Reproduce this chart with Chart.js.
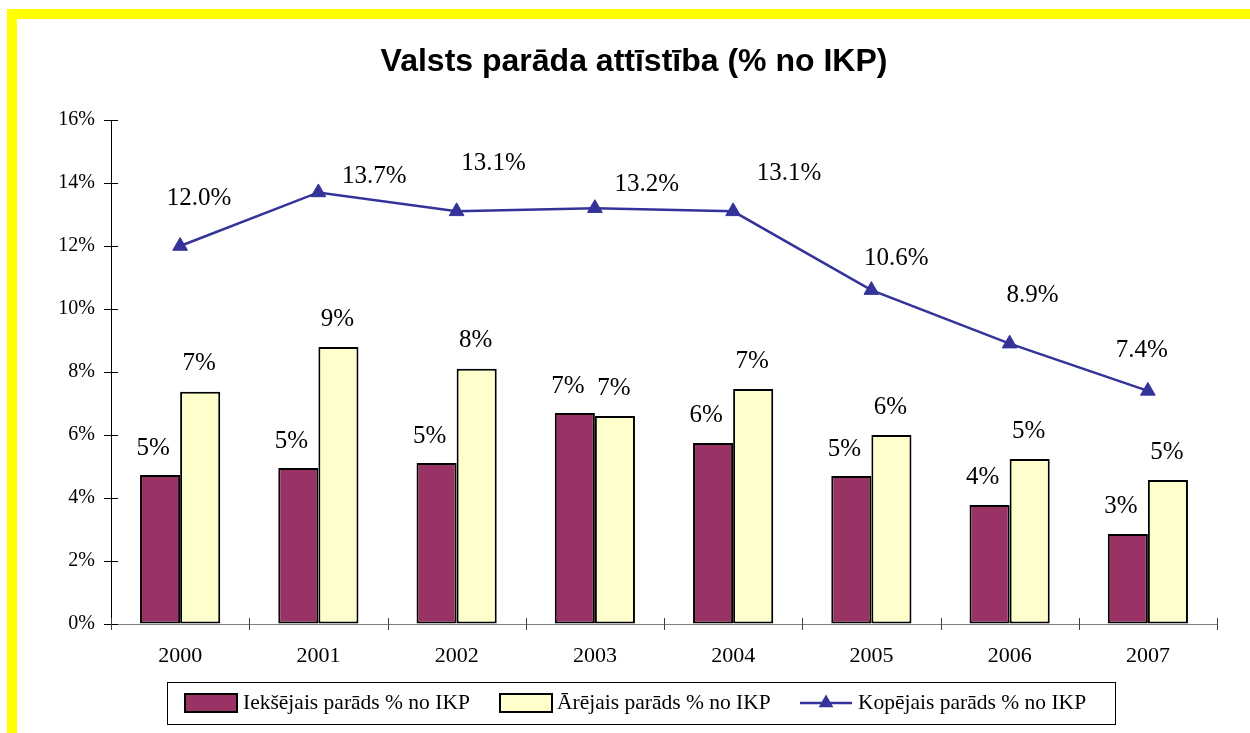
<!DOCTYPE html>
<html><head><meta charset="utf-8">
<script src="https://cdn.jsdelivr.net/npm/chart.js@4.4.1/dist/chart.umd.min.js"></script>
<style>
html,body{margin:0;padding:0;background:#fff;}
#wrap{position:relative;width:1250px;height:733px;overflow:hidden;background:#fff;}
#frame{position:absolute;left:7px;top:9px;right:-20px;bottom:-20px;border-top:10px solid #FFFF00;border-left:10px solid #FFFF00;}
canvas{position:absolute;left:0;top:0;}
</style></head>
<body><div id="wrap"><div id="frame"></div><canvas id="c" width="1250" height="733"></canvas></div>
<script>
const chartTitle = 'Valsts parāda attīstība (% no IKP)';
const categories = ['2000', '2001', '2002', '2003', '2004', '2005', '2006', '2007'];
const domesticDebt = [4.73, 4.95, 5.11, 6.70, 5.75, 4.70, 3.78, 2.86];
const externalDebt = [7.37, 8.79, 8.10, 6.60, 7.46, 6.00, 5.24, 4.57];
const totalDebt = [12.0, 13.7, 13.1, 13.2, 13.1, 10.6, 8.9, 7.4];
const seriesNames = ['Iekšējais parāds % no IKP', 'Ārējais parāds % no IKP', 'Kopējais parāds % no IKP'];
const yTickValues = [0, 2, 4, 6, 8, 10, 12, 14, 16];

const COL_DOM = '#993366', COL_EXT = '#FFFFCC', COL_TOT = '#333399';
const SERIF = '"Liberation Serif", "Times New Roman", serif';
// per-point label offsets for the total-debt line (style, not data)
const lineLabelOffsets = [[19,-48],[56,-16],[37,-48],[52,-24],[56,-38],[25,-32],[23,-48],[-6,-40]];

const overlay = {
  id: 'overlay',
  afterDatasetsDraw(chart) {
    const ctx = chart.ctx;
    const xs = chart.scales.x, ys = chart.scales.y;
    ctx.save();
    // crossing tick marks on y axis
    ctx.strokeStyle = '#000';
    ctx.lineWidth = 1;
    yTickValues.forEach(v => {
      const y = Math.round(ys.getPixelForValue(v)) + 0.5;
      ctx.beginPath(); ctx.moveTo(xs.left - 7, y); ctx.lineTo(xs.left + 7, y); ctx.stroke();
    });
    // crossing tick marks on x axis at category boundaries
    ctx.strokeStyle = '#404040';
    for (let i = 0; i <= categories.length; i++) {
      const x = Math.round(xs.getPixelForValue(i - 0.5)) + 0.5;
      ctx.beginPath(); ctx.moveTo(x, ys.bottom - 6); ctx.lineTo(x, ys.bottom + 6); ctx.stroke();
    }
    ctx.restore();
  },
  afterDraw(chart) {
    const ctx = chart.ctx;
    ctx.save();
    // title
    ctx.fillStyle = '#000';
    ctx.font = 'bold 32px "Liberation Sans", Arial, sans-serif';
    ctx.textAlign = 'center';
    ctx.textBaseline = 'middle';
    ctx.fillText(chartTitle, 634, 62);

    // bar labels
    ctx.font = '25px ' + SERIF;
    const barOffsets = [[-7, -27], [-1, -28]];
    [0, 1].forEach(di => {
      const meta = chart.getDatasetMeta(di);
      const ds = chart.data.datasets[di];
      meta.data.forEach((el, i) => {
        const v = ds.data[i];
        ctx.fillText(Math.round(v) + '%', el.x + barOffsets[di][0], el.y + barOffsets[di][1]);
      });
    });
    // line labels
    const lm = chart.getDatasetMeta(2);
    lm.data.forEach((el, i) => {
      const v = chart.data.datasets[2].data[i];
      ctx.fillText(v.toFixed(1) + '%', el.x + lineLabelOffsets[i][0], el.y + lineLabelOffsets[i][1]);
    });

    // legend
    ctx.lineWidth = 1;
    ctx.strokeStyle = '#000';
    ctx.strokeRect(167.5, 682.5, 948, 42);
    const ly = 703;
    ctx.font = '21.5px ' + SERIF;
    ctx.textAlign = 'left';
    ctx.textBaseline = 'middle';
    const items = [
      {x: 185, text: seriesNames[0], kind: 'bar', color: COL_DOM, tx: 243},
      {x: 500, text: seriesNames[1], kind: 'bar', color: COL_EXT, tx: 557},
      {x: 800, text: seriesNames[2], kind: 'line', color: COL_TOT, tx: 858}
    ];
    items.forEach(it => {
      if (it.kind === 'bar') {
        ctx.fillStyle = it.color;
        ctx.fillRect(it.x, ly - 9, 52, 18);
        ctx.lineWidth = 2;
        ctx.strokeStyle = '#000';
        ctx.strokeRect(it.x, ly - 9, 52, 18);
      } else {
        ctx.strokeStyle = it.color;
        ctx.lineWidth = 2.5;
        ctx.beginPath();
        ctx.moveTo(it.x, ly); ctx.lineTo(it.x + 52, ly); ctx.stroke();
        const cx = it.x + 26, r = 8.5;
        ctx.fillStyle = it.color;
        ctx.beginPath();
        ctx.moveTo(cx, ly - r);
        ctx.lineTo(cx + r * 0.866, ly + r * 0.5);
        ctx.lineTo(cx - r * 0.866, ly + r * 0.5);
        ctx.closePath(); ctx.fill();
      }
      ctx.fillStyle = '#000';
      ctx.fillText(it.text, it.tx, ly);
    });
    ctx.restore();
  }
};

new Chart(document.getElementById('c'), {
  type: 'bar',
  data: {
    labels: categories,
    datasets: [
      {label: seriesNames[0], data: domesticDebt, backgroundColor: COL_DOM, borderColor: '#000', borderWidth: 2, borderSkipped: false, order: 1, categoryPercentage: 0.58, barPercentage: 1.0},
      {label: seriesNames[1], data: externalDebt, backgroundColor: COL_EXT, borderColor: '#000', borderWidth: 2, borderSkipped: false, order: 1, categoryPercentage: 0.58, barPercentage: 1.0},
      {type: 'line', label: seriesNames[2], data: totalDebt, borderColor: COL_TOT, backgroundColor: COL_TOT, borderWidth: 2.5, tension: 0, pointStyle: 'triangle', pointRadius: 8.5, pointBorderWidth: 1, pointBackgroundColor: COL_TOT, pointBorderColor: COL_TOT, order: 0}
    ]
  },
  options: {
    responsive: false,
    animation: false,
    devicePixelRatio: 1,
    layout: {padding: {left: 20, right: 33, top: 120, bottom: 0}},
    plugins: {legend: {display: false}, title: {display: false}, tooltip: {enabled: false}},
    scales: {
      x: {
        offset: true,
        grid: {offset: true, display: true, drawOnChartArea: false, drawTicks: false, color: 'rgba(0,0,0,0)'},
        border: {display: true, color: '#808080', width: 1},
        ticks: {font: {family: SERIF, size: 22}, color: '#000', padding: 19, maxRotation: 0},
        afterFit(s) { s.height = 109; }
      },
      y: {
        min: 0, max: 16,
        afterBuildTicks(s) { s.ticks = yTickValues.map(v => ({value: v})); },
        grid: {drawOnChartArea: false, drawTicks: false, color: 'rgba(0,0,0,0)'},
        border: {display: true, color: '#000', width: 1},
        ticks: {font: {family: SERIF, size: 20}, color: '#000', padding: 16, callback: v => v + '%'},
        afterFit(s) { s.width = 91; }
      }
    }
  },
  plugins: [overlay]
});
</script>
</body></html>
